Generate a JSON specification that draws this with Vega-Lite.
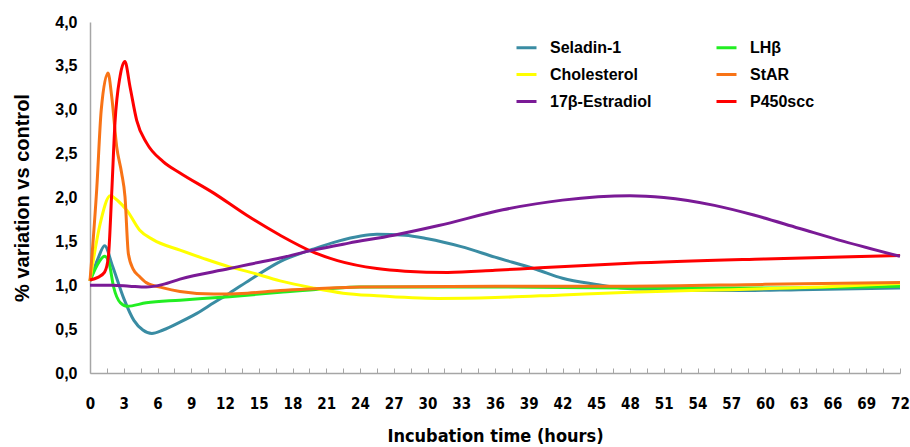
{
  "$schema": "https://vega.github.io/schema/vega-lite/v6.json",
  "width": 810,
  "height": 351,
  "autosize": "none",
  "padding": {"left": 90, "top": 22, "right": 10, "bottom": 74},
  "background": "white",
  "config": {"view": {"stroke": null}},
  "data": {"values": [
    {"s":"Seladin-1","t":0,"v":1.05},{"s":"Seladin-1","t":0.7,"v":1.3},{"s":"Seladin-1","t":1.3,"v":1.45},{"s":"Seladin-1","t":2.0,"v":1.22},{"s":"Seladin-1","t":3.0,"v":0.85},{"s":"Seladin-1","t":3.9,"v":0.6},{"s":"Seladin-1","t":4.7,"v":0.49},{"s":"Seladin-1","t":5.5,"v":0.45},{"s":"Seladin-1","t":6.5,"v":0.49},{"s":"Seladin-1","t":8,"v":0.58},{"s":"Seladin-1","t":9.5,"v":0.68},{"s":"Seladin-1","t":11,"v":0.8},{"s":"Seladin-1","t":12.4,"v":0.91},{"s":"Seladin-1","t":14.2,"v":1.06},{"s":"Seladin-1","t":16.9,"v":1.27},{"s":"Seladin-1","t":19.8,"v":1.41},{"s":"Seladin-1","t":22,"v":1.5},{"s":"Seladin-1","t":25.5,"v":1.58},{"s":"Seladin-1","t":28,"v":1.57},{"s":"Seladin-1","t":30,"v":1.53},{"s":"Seladin-1","t":33,"v":1.44},{"s":"Seladin-1","t":36,"v":1.32},{"s":"Seladin-1","t":39.7,"v":1.18},{"s":"Seladin-1","t":42,"v":1.08},{"s":"Seladin-1","t":45,"v":1.01},{"s":"Seladin-1","t":47.2,"v":0.97},{"s":"Seladin-1","t":51,"v":0.95},{"s":"Seladin-1","t":57,"v":0.94},{"s":"Seladin-1","t":63,"v":0.95},{"s":"Seladin-1","t":72,"v":0.97},

    {"s":"LHβ","t":0,"v":1.05},{"s":"LHβ","t":0.6,"v":1.22},{"s":"LHβ","t":1.3,"v":1.33},{"s":"LHβ","t":1.7,"v":1.25},{"s":"LHβ","t":2.1,"v":0.98},{"s":"LHβ","t":2.7,"v":0.8},{"s":"LHβ","t":3.3,"v":0.76},{"s":"LHβ","t":5,"v":0.8},{"s":"LHβ","t":8,"v":0.83},{"s":"LHβ","t":12.4,"v":0.87},{"s":"LHβ","t":16.9,"v":0.92},{"s":"LHβ","t":21,"v":0.96},{"s":"LHβ","t":24,"v":0.98},{"s":"LHβ","t":36,"v":0.98},{"s":"LHβ","t":48,"v":0.97},{"s":"LHβ","t":60,"v":0.97},{"s":"LHβ","t":72,"v":0.99},

    {"s":"Cholesterol","t":0,"v":1.05},{"s":"Cholesterol","t":0.9,"v":1.7},{"s":"Cholesterol","t":1.8,"v":2.02},{"s":"Cholesterol","t":2.5,"v":1.96},{"s":"Cholesterol","t":3.3,"v":1.85},{"s":"Cholesterol","t":4.4,"v":1.63},{"s":"Cholesterol","t":5.6,"v":1.52},{"s":"Cholesterol","t":8,"v":1.4},{"s":"Cholesterol","t":10,"v":1.31},{"s":"Cholesterol","t":12.4,"v":1.21},{"s":"Cholesterol","t":14.2,"v":1.15},{"s":"Cholesterol","t":16.9,"v":1.05},{"s":"Cholesterol","t":19.8,"v":0.97},{"s":"Cholesterol","t":22.5,"v":0.91},{"s":"Cholesterol","t":25.5,"v":0.88},{"s":"Cholesterol","t":31,"v":0.85},{"s":"Cholesterol","t":36,"v":0.86},{"s":"Cholesterol","t":42,"v":0.89},{"s":"Cholesterol","t":48,"v":0.92},{"s":"Cholesterol","t":57,"v":0.95},{"s":"Cholesterol","t":65,"v":0.98},{"s":"Cholesterol","t":72,"v":1.02},

    {"s":"StAR","t":0,"v":1.05},{"s":"StAR","t":0.6,"v":2.1},{"s":"StAR","t":1.0,"v":3.0},{"s":"StAR","t":1.6,"v":3.42},{"s":"StAR","t":1.93,"v":3.15},{"s":"StAR","t":2.37,"v":2.58},{"s":"StAR","t":2.81,"v":2.28},{"s":"StAR","t":3.11,"v":2.01},{"s":"StAR","t":3.41,"v":1.36},{"s":"StAR","t":3.85,"v":1.18},{"s":"StAR","t":4.4,"v":1.1},{"s":"StAR","t":5,"v":1.03},{"s":"StAR","t":6.5,"v":0.97},{"s":"StAR","t":8,"v":0.93},{"s":"StAR","t":11,"v":0.9},{"s":"StAR","t":14,"v":0.91},{"s":"StAR","t":16.9,"v":0.94},{"s":"StAR","t":20,"v":0.96},{"s":"StAR","t":24,"v":0.98},{"s":"StAR","t":36,"v":0.99},{"s":"StAR","t":48,"v":0.99},{"s":"StAR","t":60,"v":1.01},{"s":"StAR","t":72,"v":1.03},

    {"s":"P450scc","t":0,"v":1.06},{"s":"P450scc","t":0.7,"v":1.09},{"s":"P450scc","t":1.3,"v":1.15},{"s":"P450scc","t":1.63,"v":1.32},{"s":"P450scc","t":1.93,"v":2.05},{"s":"P450scc","t":2.22,"v":2.85},{"s":"P450scc","t":2.67,"v":3.38},{"s":"P450scc","t":3.1,"v":3.55},{"s":"P450scc","t":3.56,"v":3.26},{"s":"P450scc","t":4.15,"v":2.88},{"s":"P450scc","t":5.04,"v":2.62},{"s":"P450scc","t":6.5,"v":2.41},{"s":"P450scc","t":8,"v":2.28},{"s":"P450scc","t":11,"v":2.05},{"s":"P450scc","t":13.9,"v":1.8},{"s":"P450scc","t":16.9,"v":1.57},{"s":"P450scc","t":19.8,"v":1.38},{"s":"P450scc","t":22,"v":1.28},{"s":"P450scc","t":25.5,"v":1.19},{"s":"P450scc","t":28,"v":1.16},{"s":"P450scc","t":31.8,"v":1.145},{"s":"P450scc","t":36,"v":1.17},{"s":"P450scc","t":40,"v":1.2},{"s":"P450scc","t":48,"v":1.25},{"s":"P450scc","t":60,"v":1.3},{"s":"P450scc","t":72,"v":1.34},

    {"s":"17β-Estradiol","t":0,"v":1.0},{"s":"17β-Estradiol","t":2,"v":1.0},{"s":"17β-Estradiol","t":3.5,"v":0.99},{"s":"17β-Estradiol","t":5,"v":0.98},{"s":"17β-Estradiol","t":6.5,"v":1.01},{"s":"17β-Estradiol","t":8,"v":1.07},{"s":"17β-Estradiol","t":12.4,"v":1.19},{"s":"17β-Estradiol","t":14.2,"v":1.24},{"s":"17β-Estradiol","t":16.9,"v":1.31},{"s":"17β-Estradiol","t":19.8,"v":1.4},{"s":"17β-Estradiol","t":23,"v":1.48},{"s":"17β-Estradiol","t":27,"v":1.57},{"s":"17β-Estradiol","t":31,"v":1.68},{"s":"17β-Estradiol","t":36.7,"v":1.86},{"s":"17β-Estradiol","t":42,"v":1.97},{"s":"17β-Estradiol","t":48,"v":2.02},{"s":"17β-Estradiol","t":51,"v":2.0},{"s":"17β-Estradiol","t":55.5,"v":1.91},{"s":"17β-Estradiol","t":59,"v":1.8},{"s":"17β-Estradiol","t":63,"v":1.65},{"s":"17β-Estradiol","t":67,"v":1.5},{"s":"17β-Estradiol","t":72,"v":1.33}
  ]},
  "mark": {"type": "line", "interpolate": "monotone", "strokeWidth": 3},
  "encoding": {
    "x": {
      "field": "t", "type": "quantitative",
      "scale": {"domain": [0, 72], "nice": false, "zero": false},
      "axis": {
        "values": [0,1.5,3,4.5,6,7.5,9,10.5,12,13.5,15,16.5,18,19.5,21,22.5,24,25.5,27,28.5,30,31.5,33,34.5,36,37.5,39,40.5,42,43.5,45,46.5,48,49.5,51,52.5,54,55.5,57,58.5,60,61.5,63,64.5,66,67.5,69,70.5,72],
        "labelExpr": "datum.value % 3 === 0 ? datum.label : ''",
        "format": "d",
        "grid": false,
        "domainColor": "#a6a6a6", "domainWidth": 1.5,
        "tickColor": "#a6a6a6", "tickSize": -5, "tickWidth": 1,
        "labelFont": "DejaVu Sans Condensed, Liberation Sans, sans-serif", "labelFontWeight": "bold", "labelFontSize": 15, "labelColor": "#000000",
        "labelPadding": 28, "labelFlush": false, "labelOverlap": false,
        "title": "Incubation time (hours)",
        "titleFont": "DejaVu Sans Condensed, Liberation Sans, sans-serif", "titleFontWeight": "bold", "titleFontSize": 18, "titleColor": "#000000",
        "titlePadding": 16
      }
    },
    "y": {
      "field": "v", "type": "quantitative",
      "scale": {"domain": [0, 4], "nice": false},
      "axis": {
        "values": [0,0.5,1,1.5,2,2.5,3,3.5,4],
        "labelExpr": "replace(format(datum.value, '.1f'), '.', ',')",
        "grid": false, "ticks": false,
        "domainColor": "#a6a6a6", "domainWidth": 1.5,
        "labelFont": "Liberation Sans", "labelFontWeight": "bold", "labelFontSize": 16, "labelColor": "#000000",
        "labelPadding": 13,
        "title": "% variation vs control",
        "titleFont": "Liberation Sans", "titleFontWeight": "bold", "titleFontSize": 20, "titleColor": "#000000",
        "titlePadding": 22
      }
    },
    "color": {
      "field": "s", "type": "nominal",
      "scale": {
        "domain": ["Seladin-1","Cholesterol","17β-Estradiol","LHβ","StAR","P450scc"],
        "range": ["#3a8ca3","#ffff00","#7a1a96","#22ee22","#f87316","#ff0000"]
      },
      "legend": {
        "title": null, "orient": "none", "legendX": 425, "legendY": 14,
        "columns": 2, "columnPadding": 58, "rowPadding": 7,
        "symbolType": "stroke", "symbolStrokeWidth": 3, "symbolSize": 400,
        "labelFont": "Liberation Sans", "labelFontWeight": "bold", "labelFontSize": 16, "labelColor": "#000000",
        "labelOffset": 12
      }
    }
  }
}
